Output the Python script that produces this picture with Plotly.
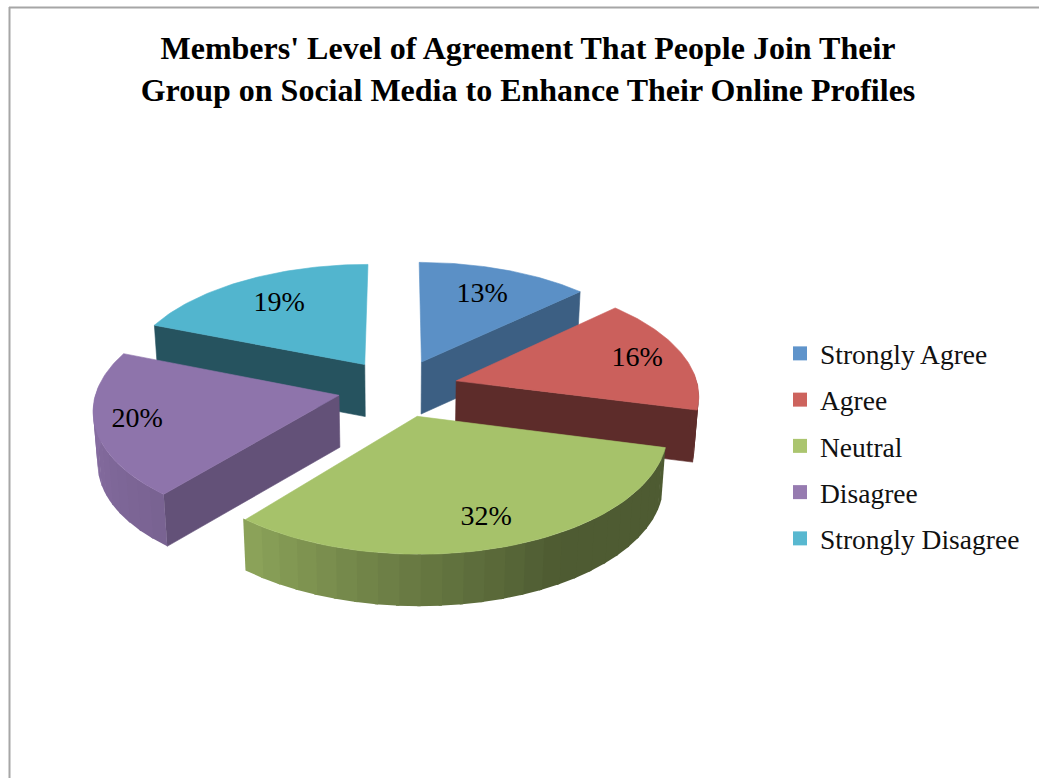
import math
import plotly.graph_objects as go

# ---- data ----
categories = ["Strongly Agree", "Agree", "Neutral", "Disagree", "Strongly Disagree"]
percent_values = [13, 16, 32, 20, 19]

# ---- styles ----
top_colors = ["#5b90c6", "#cb605c", "#a6c26a", "#8e74ab", "#52b5ce"]
legend_colors = ["#5f94cb", "#cd635d", "#abc56f", "#967bb0", "#58b8d0"]
radial_wall_shade = [0.66, 0.46, 0.46, 0.70, 0.46]
label_radius = [0.71, 0.80, 0.80, 0.83, 0.70]
title_text = ("Members' Level of Agreement That People Join Their<br>"
              "Group on Social Media to Enhance Their Online Profiles")

# ---- projection of the tilted, exploded pie ----
CX, CY = 398, 388      # pie centre on the canvas
RX, RY = 242, 116      # disk radii
PERSP = 0.11           # far side of the disk is foreshortened
EXPLODE = 0.25         # slice explosion as a share of the radius
DEPTH = 52             # extrusion height
BOTTOM_SCALE = 0.985


def project(X, Y, lower=False):
    p = 1 / (1 + PERSP * Y)
    sx = CX + X * RX * p
    sy = CY - Y * RY * p
    if lower:
        sx = CX + (sx - CX) * BOTTOM_SCALE
        sy += DEPTH
    return sx, sy


def point(angle, radius, mid, lower=False):
    X = EXPLODE * math.sin(mid) + radius * math.sin(angle)
    Y = EXPLODE * math.cos(mid) + radius * math.cos(angle)
    return project(X, Y, lower)


def shade(color, k):
    r, g, b = (int(color[i:i + 2], 16) for i in (1, 3, 5))
    return f"rgb({r * k:.0f},{g * k:.0f},{b * k:.0f})"


def arc_shade(deg):
    stops = [(150, .47), (180, .62), (220, .85), (270, .95)]
    if deg <= stops[0][0]:
        return stops[0][1]
    for (a0, k0), (a1, k1) in zip(stops, stops[1:]):
        if deg <= a1:
            return k0 + (k1 - k0) * (deg - a0) / (a1 - a0)
    return stops[-1][1]


def polygon(pts, fill, edge=0.6):
    xs = [p[0] for p in pts] + [pts[0][0]]
    ys = [p[1] for p in pts] + [pts[0][1]]
    return go.Scatter(x=xs, y=ys, mode="lines", fill="toself", fillcolor=fill,
                      line=dict(color=fill, width=edge), hoverinfo="skip",
                      showlegend=False)


fig = go.Figure()
total = sum(percent_values)
slices = []
running = 0
for i, v in enumerate(percent_values):
    start = running / total * 2 * math.pi
    running += v
    end = running / total * 2 * math.pi
    slices.append((i, start, end, (start + end) / 2))

for i, a, b, mid in sorted(slices, key=lambda s: -math.cos(s[3])):
    color = top_colors[i]
    wall = shade(color, radial_wall_shade[i])
    # radial walls that face the viewer
    if math.sin(b) > 0:
        fig.add_trace(polygon([point(b, 0, mid), point(b, 1, mid),
                               point(b, 1, mid, True), point(b, 0, mid, True)], wall))
    if math.sin(a) < 0:
        fig.add_trace(polygon([point(a, 0, mid), point(a, 1, mid),
                               point(a, 1, mid, True), point(a, 0, mid, True)], wall))
    # rim wall, in narrow facets; each facet overlaps the next so no seams show
    step = math.radians(4.5)
    n = max(1, round((b - a) / step))
    for k in range(n):
        t0 = a + (b - a) * k / n
        t1 = a + (b - a) * (k + 1) / n
        if math.cos((t0 + t1) / 2) < 0.05:
            arc = [t0, (t0 + t1) / 2, t1, t1 + 0.012]
            upper = [point(t, 1, mid) for t in arc]
            lower = [point(t, 1, mid, True) for t in reversed(arc)]
            fig.add_trace(polygon(upper + lower,
                                  shade(color, arc_shade(math.degrees((t0 + t1) / 2))), edge=0))
    # top face
    rim = [point(a + (b - a) * k / 60, 1, mid) for k in range(61)]
    fig.add_trace(polygon([point(a, 0, mid)] + rim, color))

# percentage labels
lx, ly, lt = [], [], []
for i, a, b, mid in slices:
    x, y = point(mid, label_radius[i], mid)
    lx.append(x)
    ly.append(y)
    lt.append(f"{percent_values[i]}%")
fig.add_trace(go.Scatter(x=lx, y=ly, text=lt, mode="text", showlegend=False, hoverinfo="skip",
                         textposition="middle center",
                         textfont=dict(family="Liberation Serif", size=28, color="#000000")))

# legend entries
for name, c in zip(categories, legend_colors):
    fig.add_trace(go.Scatter(x=[None], y=[None], mode="markers", name=name, legendgroup=name,
                             marker=dict(symbol="square", size=14, color=c)))

fig.update_layout(
    width=1039, height=778, margin=dict(l=0, r=0, t=0, b=0),
    paper_bgcolor="#ffffff", plot_bgcolor="#ffffff",
    title=dict(text=title_text, x=528 / 1039, xanchor="center", y=1 - 59 / 778, yanchor="top",
               font=dict(family="Liberation Serif", size=32, color="#000000", weight="bold")),
    xaxis=dict(range=[0, 1039], visible=False, fixedrange=True),
    yaxis=dict(range=[778, 0], visible=False, fixedrange=True),
    legend=dict(x=780 / 1039, xanchor="left", y=1 - 329 / 778, yanchor="top",
                tracegroupgap=7.5, bgcolor="rgba(0,0,0,0)",
                font=dict(family="Liberation Serif", size=27.5, color="#111111")),
    shapes=[
        dict(type="line", xref="paper", yref="paper", x0=9 / 1039, x1=1, y0=1 - 7.5 / 778, y1=1 - 7.5 / 778,
             line=dict(color="#a6a6a6", width=2)),
        dict(type="line", xref="paper", yref="paper", x0=9.5 / 1039, x1=9.5 / 1039, y0=1 - 7 / 778, y1=0,
             line=dict(color="#a6a6a6", width=2)),
    ],
)

fig.write_html("out.html", config=dict(displayModeBar=False),
               post_script="document.body.style.margin='0';document.body.style.overflow='hidden';")
